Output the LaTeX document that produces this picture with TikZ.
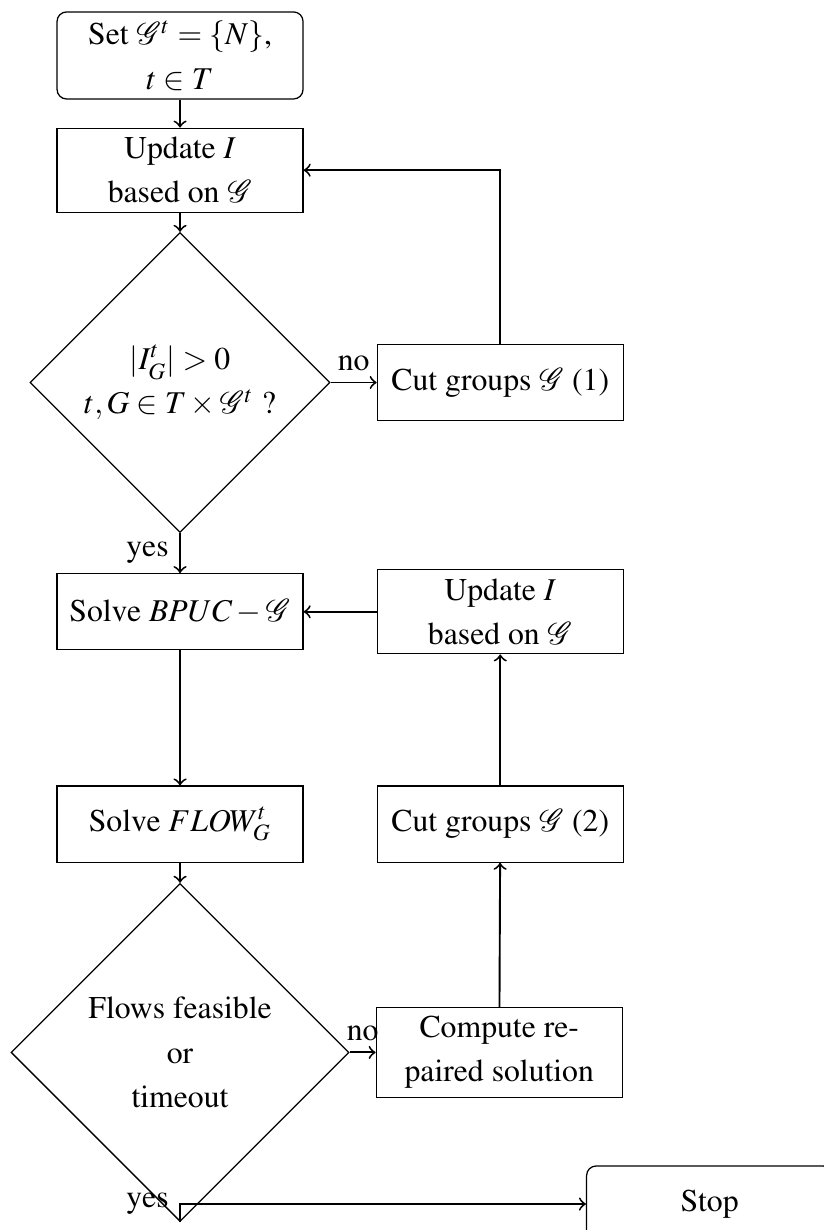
\documentclass[tikz,border=0pt]{standalone}
\usepackage[T1]{fontenc}
\usepackage{mathptmx}
\usepackage{mathrsfs}
\usepackage{tikz}
\usetikzlibrary{shapes.geometric, positioning}

\begin{document}
\begin{tikzpicture}[every node/.style={inner sep=2pt},
  terminal/.style={draw, rectangle, rounded corners=3pt, minimum width=2.727cm,
    minimum height=0.843cm, align=center, font=\linespread{1.16}\selectfont},
  process/.style={draw, rectangle, minimum width=2.727cm, minimum height=0.843cm,
    align=center, font=\linespread{1.16}\selectfont},
  decision/.style={draw, diamond, aspect=1, inner sep=0pt, align=center,
    font=\linespread{1.16}\selectfont},
  lbl/.style={inner sep=3.3pt},
  arrow/.style={->, semithick}]
\useasboundingbox (0,0) rectangle (9.124,-13.636);
% left column
\node[terminal, minimum height=0.965cm] (start) at (1.996,-0.615)
  {Set $\mathscr{G}^t = \{N\}$,\\ $t \in T$};
\node[process, minimum height=0.931cm, below=0.31cm of start] (upd1)
  {Update $I$\\ based on $\mathscr{G}$};
\node[decision, minimum size=3.326cm, below=0.211cm of upd1] (dec1)
  {$|I^t_G| > 0$\\ $t, G \in T \times \mathscr{G}^t$ ?};
\node[process, below=0.443cm of dec1] (solve1) {Solve $BPUC - \mathscr{G}$};
\node[process, below=1.497cm of solve1] (solve2) {Solve $FLOW^t_G$};
\node[decision, minimum size=3.747cm, below=0.222cm of solve2] (dec2)
  {Flows feasible\\ or\\ timeout};
% right column
\node[process, right=0.51cm of dec1] (cut1) {Cut groups $\mathscr{G}$ (1)};
\node[process, minimum height=0.931cm, right=0.809cm of solve1] (upd2)
  {Update $I$\\ based on $\mathscr{G}$};
\node[process, right=0.809cm of solve2] (cut2) {Cut groups $\mathscr{G}$ (2)};
\node[process, minimum height=0.998cm, right=0.288cm of dec2] (compute)
  {Compute re-\\ paired solution};
\node[terminal, right=4.5cm of dec2.south, yshift=0.2cm] (stop) {Stop};

\draw[arrow] (start) -- (upd1);
\draw[arrow] (upd1) -- (dec1);
\draw[arrow] (dec1) -- node[lbl, above] {no} (cut1);
\draw[arrow] (cut1) |- (upd1);
\draw[arrow] (dec1) -- node[lbl, left] {yes} (solve1);
\draw[arrow] (upd2) -- (solve1);
\draw[arrow] (solve1) -- (solve2);
\draw[arrow] (cut2) -- (upd2);
\draw[arrow] (solve2) -- (dec2);
\draw[arrow] (compute) -- (cut2);
\draw[arrow] (dec2) -- node[lbl, above] {no} (compute);
\draw[arrow] (dec2) |- node[lbl, left, pos=0.5] {yes} (stop);
\end{tikzpicture}
\end{document}
